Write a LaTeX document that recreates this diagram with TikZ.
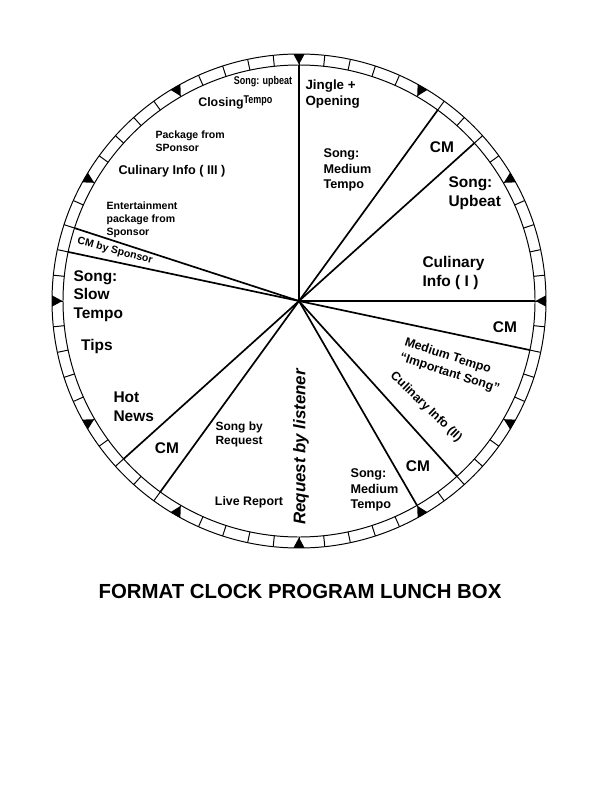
\documentclass[tikz,border=0pt]{standalone}
\usepackage{fontspec}
\setmainfont{Liberation Sans}
\usepackage{tikz}
\usetikzlibrary{positioning}

\begin{document}
\begin{tikzpicture}[x=0.025cm, y=-0.025cm, thick]
      \tikzstyle{big}=[font=\bfseries\fontsize{11}{13.2}\selectfont, align=left, inner sep=0pt]
      \tikzstyle{mid}=[font=\bfseries\fontsize{9}{11}\selectfont, align=left, inner sep=0pt]
      \tikzstyle{tiny}=[font=\bfseries\fontsize{7.5}{9.3}\selectfont, align=left, inner sep=0pt]
      \tikzstyle{narrow}=[font=\bfseries\fontsize{8}{9}\selectfont\addfontfeature{FakeStretch=0.8}, inner sep=0pt]
      \tikzstyle{divider}=[line width=1.2pt]
      \tikzstyle{rim}=[line width=0.7pt]

      \useasboundingbox (0,0) rectangle (600,800);
      \coordinate (C) at (299,301);

      % clock face, one tick per minute
      \begin{scope}[shift={(C)}]
        \draw[rim] (0,0) circle (247);
        \draw[rim] (0,0) circle (236);
        \foreach \m in {0,...,59}
          \draw[rim] (6*\m-90:236) -- (6*\m-90:247);
        \foreach \m in {0,5,...,55}
          \fill (6*\m-91.3:247) -- (6*\m-90:236.5) -- (6*\m-88.7:247) -- cycle;
      \end{scope}

      % segment borders
      \foreach \m in {0,6,8,15,17,23,25,36,38,47,48}
        \draw[divider] (C) -- +(6*\m-90:236);

      \node[mid, font=\bfseries\fontsize{9.5}{11.3}\selectfont, anchor=west] (jingle) at (305,94) {Jingle +\\Opening};
      \node[mid, anchor=west] (songmed) at (323,170) {Song:\\Medium\\Tempo};
      \node[big] (cmA) at (442,147) {CM};
      \node[big, anchor=west] (upbeat) at (448,193) {Song:\\Upbeat};
      \node[big, font=\bfseries\fontsize{11}{14}\selectfont, anchor=west] (culone) at (422,273) {Culinary\\Info ( I )};
      \node[big] (cmB) at (505,327) {CM};
      \node[mid, font=\bfseries\fontsize{8.8}{11.2}\selectfont, rotate=-18] (important) at (452,366) {Medium Tempo\\“Important Song”};
      \node[mid, font=\bfseries\fontsize{8.8}{11}\selectfont, rotate=-44] (cultwo) at (426,407) {Culinary Info (II)};
      \node[big] (cmC) at (418,466) {CM};
      \node[mid, anchor=west] (songmedtwo) at (350,490) {Song:\\Medium\\Tempo};
      \node[font=\bfseries\itshape\fontsize{12}{14}\selectfont, rotate=90, inner sep=0pt] (request) at (301,447) {Request by listener};
      \node[mid, font=\bfseries\fontsize{8.8}{10}\selectfont] (live) at (249,502) {Live Report};
      \node[mid, font=\bfseries\fontsize{8.5}{10}\selectfont, anchor=west] (bysong) at (215,434) {Song by\\Request};
      \node[big] (cmD) at (167,448) {CM};
      \node[big, anchor=west] (hot) at (113,407) {Hot\\News};
      \node[big] (tips) at (97,346) {Tips};
      \node[big, anchor=west] (slow) at (73,296) {Song:\\Slow\\Tempo};
      \node[tiny, rotate=-15] (cmspons) at (115,251) {CM by Sponsor};
      \node[tiny, anchor=west] (enter) at (106,220) {Entertainment\\package from\\Sponsor};
      \node[mid] (culthree) at (172,171) {Culinary Info ( III )};
      \node[tiny, anchor=west] (pack) at (155,141) {Package from\\SPonsor};
      \node[mid, font=\bfseries\fontsize{8.8}{10}\selectfont] (closing) at (221,103) {Closing};
      \node[narrow] (upb) at (263,82) {Song: upbeat};
      \node[narrow] (tempo) at (258,101) {Tempo};

      \node[font=\bfseries\fontsize{14.5}{16}\selectfont, inner sep=0pt] (title) at (300,591) {FORMAT CLOCK PROGRAM LUNCH BOX};

\end{tikzpicture}
\end{document}
